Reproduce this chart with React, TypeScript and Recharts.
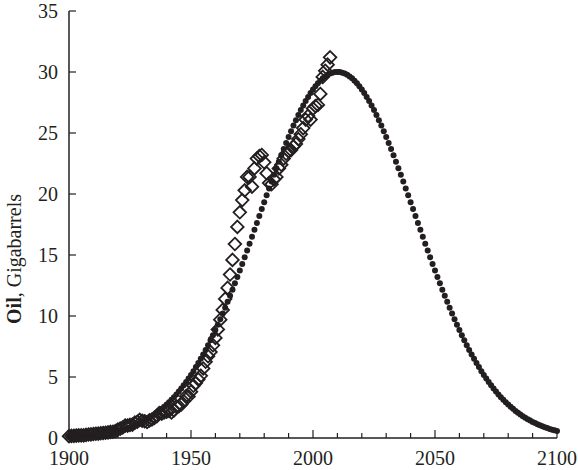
import { ScatterChart, Scatter, XAxis, YAxis } from 'recharts';

const INK = '#231f20';

// Fitted production curve, one value per year from 1900 to 2100 (Gb/yr)
const CURVE_START = 1900;
const curveValues = [
  0.08, 0.09, 0.10, 0.11, 0.12, 0.14, 0.15, 0.17, 0.19, 0.21,
  0.23, 0.25, 0.28, 0.30, 0.33, 0.37, 0.40, 0.44, 0.48, 0.53,
  0.57, 0.63, 0.68, 0.74, 0.81, 0.88, 0.96, 1.04, 1.13, 1.22,
  1.32, 1.43, 1.54, 1.66, 1.79, 1.92, 2.07, 2.22, 2.39, 2.56,
  2.74, 2.93, 3.14, 3.35, 3.57, 3.81, 4.06, 4.32, 4.59, 4.88,
  5.17, 5.48, 5.81, 6.14, 6.49, 6.85, 7.22, 7.61, 8.01, 8.42,
  8.85, 9.29, 9.74, 10.21, 10.68, 11.17, 11.66, 12.16, 12.68, 13.20,
  13.73, 14.27, 14.82, 15.37, 15.93, 16.49, 17.06, 17.63, 18.20, 18.77,
  19.33, 19.90, 20.46, 21.02, 21.57, 22.11, 22.65, 23.17, 23.69, 24.19,
  24.68, 25.15, 25.61, 26.05, 26.47, 26.88, 27.26, 27.62, 27.96, 28.28,
  28.57, 28.84, 29.08, 29.29, 29.48, 29.64, 29.77, 29.87, 29.94, 29.99,
  30.00,
  29.99, 29.94, 29.87, 29.77, 29.64, 29.48, 29.29, 29.08, 28.84, 28.57,
  28.28, 27.96, 27.62, 27.26, 26.88, 26.47, 26.05, 25.61, 25.15, 24.68,
  24.19, 23.69, 23.17, 22.65, 22.11, 21.57, 21.02, 20.46, 19.90, 19.33,
  18.77, 18.20, 17.63, 17.06, 16.49, 15.93, 15.37, 14.82, 14.27, 13.73,
  13.20, 12.68, 12.16, 11.66, 11.17, 10.68, 10.21, 9.74, 9.29, 8.85,
  8.42, 8.01, 7.61, 7.22, 6.85, 6.49, 6.14, 5.81, 5.48, 5.17,
  4.88, 4.59, 4.32, 4.06, 3.81, 3.57, 3.35, 3.14, 2.93, 2.74,
  2.56, 2.39, 2.22, 2.07, 1.92, 1.79, 1.66, 1.54, 1.43, 1.32,
  1.22, 1.13, 1.04, 0.96, 0.88, 0.81, 0.74, 0.68, 0.63, 0.57,
];

// Historical production, 1900 to 2007 (Gb/yr)
const HIST_START = 1900;
const historyValues = [
  0.15, 0.17, 0.18, 0.20, 0.22, 0.22, 0.22, 0.26, 0.29, 0.30,
  0.33, 0.35, 0.36, 0.39, 0.41, 0.43, 0.46, 0.50, 0.51, 0.56,
  0.69, 0.77, 0.86, 1.02, 1.02, 1.07, 1.10, 1.26, 1.33, 1.49,
  1.41, 1.37, 1.31, 1.44, 1.52, 1.65, 1.79, 2.04, 1.99, 2.09,
  2.15, 2.22, 2.09, 2.26, 2.59, 2.60, 2.75, 3.02, 3.43, 3.40,
  3.80, 4.28, 4.50, 4.80, 5.10, 5.70, 6.25, 6.70, 7.05, 7.60,
  8.20, 8.90, 9.70, 10.50, 11.40, 12.30, 13.40, 14.60, 15.90, 17.30,
  18.50, 19.50, 20.30, 21.40, 21.40, 20.60, 22.10, 22.90, 23.10, 23.20,
  22.60, 21.70, 20.90, 20.80, 21.20, 21.40, 22.10, 22.40, 22.90, 23.30,
  23.50, 23.60, 23.90, 24.10, 24.50, 24.90, 25.40, 26.10, 26.40, 26.10,
  27.00, 27.20, 27.30, 28.20, 29.60, 30.10, 30.60, 31.20,
];

const xTicks = [
  1900, 1910, 1920, 1930, 1940, 1950, 1960, 1970, 1980, 1990, 2000,
  2010, 2020, 2030, 2040, 2050, 2060, 2070, 2080, 2090, 2100,
];
const yTicks = [0, 5, 10, 15, 20, 25, 30, 35];

const curveData = curveValues.map((v, i) => ({ year: CURVE_START + i, value: v }));
const historyData = historyValues.map((v, i) => ({ year: HIST_START + i, value: v }));

const FONT = '"Liberation Serif", "Times New Roman", serif';

function Dot(props: any) {
  const { cx, cy } = props;
  return <circle cx={cx} cy={cy} r={3} fill={INK} />;
}

function Diamond(props: any) {
  const { cx, cy } = props;
  const h = 6.3;
  return (
    <path
      d={`M${cx},${cy - h}L${cx + h},${cy}L${cx},${cy + h}L${cx - h},${cy}Z`}
      fill="none"
      stroke={INK}
      strokeWidth={1.8}
    />
  );
}

function XTick(props: any) {
  const { x, y, payload } = props;
  const major = payload.value % 50 === 0;
  return (
    <g>
      <line x1={x} x2={x} y1={y} y2={y - (major ? 8 : 5)} stroke={INK} strokeWidth={1.2} />
      {major && (
        <text x={x} y={y + 27} textAnchor="middle" fontFamily={FONT} fontSize={20} fill={INK}>
          {payload.value}
        </text>
      )}
    </g>
  );
}

function YTick(props: any) {
  const { x, y, payload } = props;
  return (
    <g>
      <line x1={x} x2={x + 7} y1={y} y2={y} stroke={INK} strokeWidth={1.2} />
      <text x={x - 11} y={y + 6.5} textAnchor="end" fontFamily={FONT} fontSize={20} fill={INK}>
        {payload.value}
      </text>
    </g>
  );
}

function YLabel() {
  return (
    <text
      x={21}
      y={259}
      transform="rotate(-90, 21, 259)"
      textAnchor="middle"
      fontFamily={FONT}
      fontSize={20}
      fill={INK}
    >
      <tspan fontWeight="bold">Oil</tspan>
      <tspan>, Gigabarrels</tspan>
    </text>
  );
}

export default function App() {
  return (
    <div style={{ position: 'absolute', left: 0, top: 0, width: 578, height: 470, background: '#fff' }}>
      <ScatterChart width={578} height={470} margin={{ top: 11, right: 21, bottom: 0, left: 0 }}>
        <XAxis
          type="number"
          dataKey="year"
          domain={[1900, 2100]}
          ticks={xTicks}
          interval={0}
          height={32}
          tickSize={0}
          tickMargin={0}
          tickLine={false}
          axisLine={{ stroke: INK, strokeWidth: 1.5 }}
          tick={<XTick />}
        />
        <YAxis
          type="number"
          dataKey="value"
          domain={[0, 35]}
          ticks={yTicks}
          interval={0}
          width={69}
          tickSize={0}
          tickMargin={0}
          tickLine={false}
          axisLine={{ stroke: INK, strokeWidth: 1.5 }}
          tick={<YTick />}
        />
        <Scatter data={curveData} shape={<Dot />} isAnimationActive={false} />
        <Scatter data={historyData} shape={<Diamond />} isAnimationActive={false} />
      </ScatterChart>
      <svg width={578} height={470} style={{ position: 'absolute', left: 0, top: 0, pointerEvents: 'none' }}>
        <YLabel />
      </svg>
    </div>
  );
}
